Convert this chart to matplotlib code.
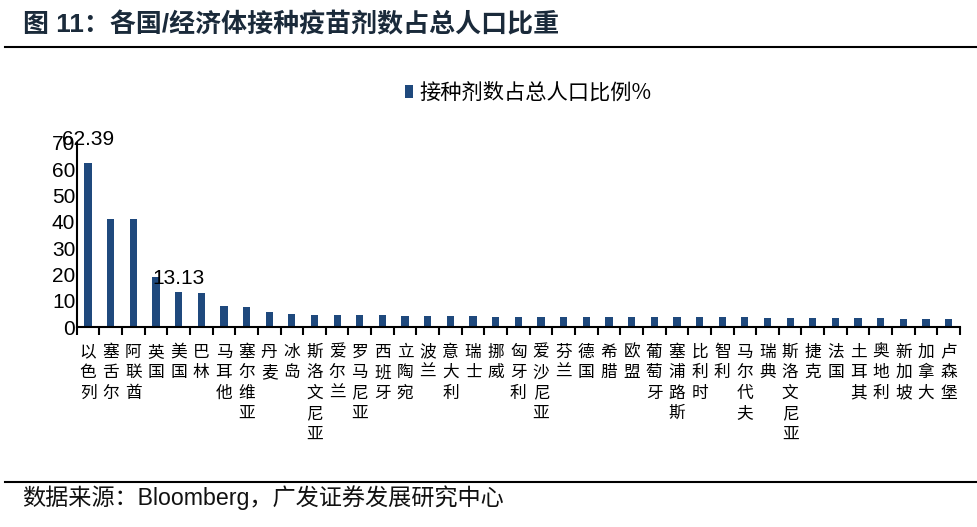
import matplotlib
matplotlib.use("Agg")
import matplotlib.pyplot as plt
from matplotlib.lines import Line2D

plt.rcParams['font.family'] = ['Liberation Sans', 'Noto Sans CJK SC', 'DejaVu Sans']

countries = ["以色列", "塞舌尔", "阿联酋", "英国", "美国", "巴林", "马耳他", "塞尔维亚", "丹麦", "冰岛",
             "斯洛文尼亚", "爱尔兰", "罗马尼亚", "西班牙", "立陶宛", "波兰", "意大利", "瑞士", "挪威", "匈牙利",
             "爱沙尼亚", "芬兰", "德国", "希腊", "欧盟", "葡萄牙", "塞浦路斯", "比利时", "智利", "马尔代夫",
             "瑞典", "斯洛文尼亚", "捷克", "法国", "土耳其", "奥地利", "新加坡", "加拿大", "卢森堡"]
values = [62.39, 41.2, 41.0, 19.2, 13.13, 12.8, 7.8, 7.6, 5.6, 4.85,
          4.6, 4.5, 4.5, 4.4, 4.3, 4.3, 4.3, 4.3, 3.95, 3.95,
          3.9, 3.9, 3.9, 3.9, 3.9, 3.9, 3.9, 3.9, 3.85, 3.7,
          3.45, 3.45, 3.3, 3.3, 3.3, 3.3, 3.2, 3.2, 3.2]
labeled = {0: 62.39, 4: 13.13}
yticks = [0, 10, 20, 30, 40, 50, 60, 70]
series_name = "接种剂数占总人口比例%"
title = "图 11：各国/经济体接种疫苗剂数占总人口比重"
source = "数据来源：Bloomberg，广发证券发展研究中心"

color = '#1F497D'
fig = plt.figure(figsize=(9.78, 5.27), dpi=100)
ax = fig.add_axes([0.0784, 0.3795, 0.9032, 0.3492])

x = list(range(len(countries)))
bars = ax.bar(x, values, width=0.32, color=color, label=series_name)

ax.set_xlim(-0.5, len(countries) - 0.5)
ax.set_ylim(0, 70)
ax.set_yticks(yticks)
ax.set_yticklabels([str(t) for t in yticks], fontsize=15, family='Liberation Sans')
ax.tick_params(axis='y', length=0, pad=1)

ax.set_xticks(x)
ax.set_xticklabels(['\n'.join(c) for c in countries], fontsize=12,
                   family=['Noto Sans CJK SC'], linespacing=1.27, va='top')
ax.tick_params(axis='x', which='major', length=0, pad=12)
ax.set_xticks([i - 0.5 for i in range(len(countries) + 1)], minor=True)
ax.tick_params(axis='x', which='minor', length=6, width=1.5, direction='out')

for s in ['top', 'right']:
    ax.spines[s].set_visible(False)
for s in ['left', 'bottom']:
    ax.spines[s].set_linewidth(1.5)

offsets = {0: 10, 4: 3}
for i, v in labeled.items():
    ax.annotate(f"{v:.2f}", (i, values[i]), xytext=(0, offsets[i]), textcoords='offset points',
                ha='center', va='bottom', fontsize=15, family='Liberation Sans', zorder=5)

fig.legend(handles=[bars], labels=[series_name], loc='center left',
           bbox_to_anchor=(0.414, 0.8235), frameon=False,
           prop={'family': ['Noto Sans CJK SC'], 'size': 15.3},
           handlelength=0.4, handleheight=0.55, handletextpad=0.3,
           borderpad=0, borderaxespad=0)

fig.text(0.0235, 0.9526, title, fontsize=18.7, fontweight='bold', color='#1a2a3a',
         family=['Liberation Sans', 'Noto Sans CJK SC'], va='center', ha='left')
fig.add_artist(Line2D([0.005, 1.0], [0.9108, 0.9108], color='black', linewidth=1.5,
                      transform=fig.transFigure))
fig.add_artist(Line2D([0.005, 1.0], [0.086, 0.086], color='black', linewidth=1.5,
                      transform=fig.transFigure))
fig.text(0.0225, 0.055, source, fontsize=16.7, family=['Liberation Sans', 'Noto Sans CJK SC'],
         va='center', ha='left', color='#111111')

fig.savefig('out.png', dpi=100)
